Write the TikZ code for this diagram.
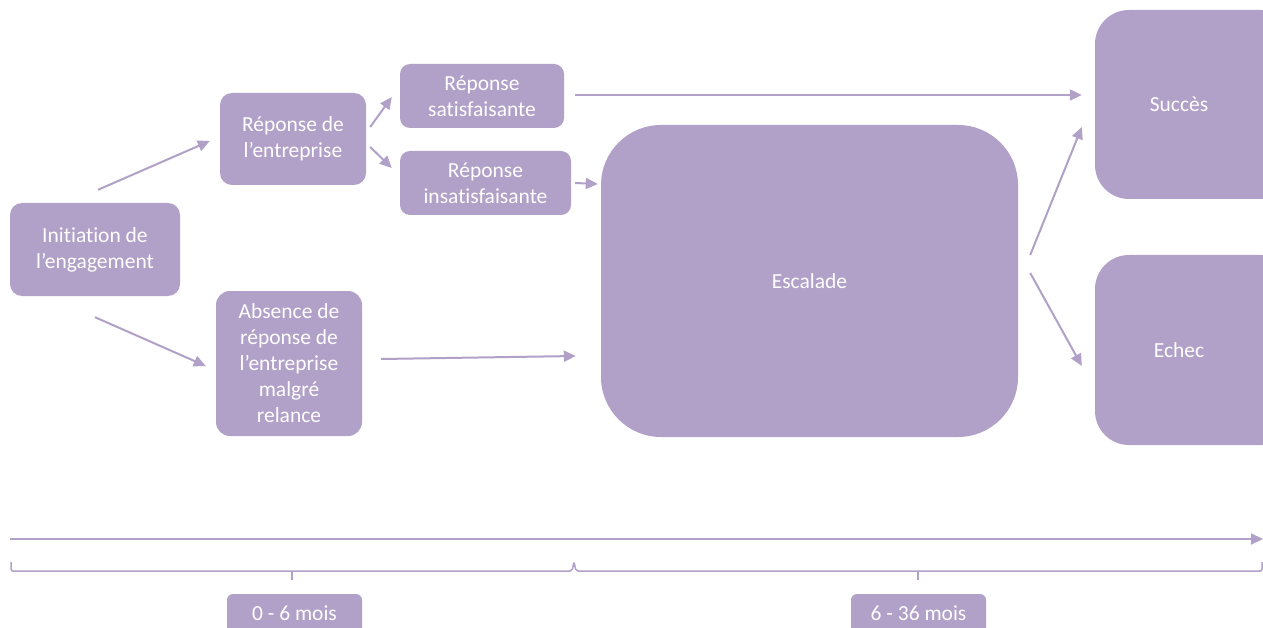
\documentclass[tikz,border=0pt]{standalone}
\usepackage{fontspec}
\setmainfont{Carlito}[Ligatures=NoCommon]
\usetikzlibrary{arrows.meta}
\definecolor{lav}{HTML}{B1A0C7}
\tikzset{
  box/.style={fill=lav, draw=none, text=white, align=center, font=\fontsize{21.5}{26}\selectfont, inner sep=0pt},
  arr/.style={draw=lav, line width=2pt, -{Triangle[length=12pt,width=11pt]}},
  ln/.style={draw=lav, line width=1.5pt},
}
\begin{document}
\begin{tikzpicture}[x=1pt,y=-1pt]
\clip (0,0) rectangle (1263,628);
\useasboundingbox (0,0) rectangle (1263,628);
\fill[white] (0,0) rectangle (1263,628);
% nodes
\node[box, rounded corners=12pt, minimum width=170pt, minimum height=93pt] (init) at (95,249.5) {Initiation de\\l’engagement};
\node[box, rounded corners=12pt, minimum width=146pt, minimum height=92pt] (rep) at (293,139) {Réponse de\\l’entreprise};
\node[box, rounded corners=10pt, minimum width=164pt, minimum height=64pt] (sat) at (482,96) {Réponse\\satisfaisante};
\node[box, rounded corners=10pt, minimum width=171pt, minimum height=64pt] (insat) at (485.5,183) {Réponse\\insatisfaisante};
\node[box, rounded corners=14pt, minimum width=146pt, minimum height=145pt] (abs) at (289,363.5) {Absence de\\réponse de\\l’entreprise\\malgré\\relance};
\node[box, rounded corners=60pt, minimum width=417pt, minimum height=312pt] (esc) at (809.5,281) {Escalade};
\node[box, rounded corners=34pt, minimum width=200pt, minimum height=189pt] (suc) at (1195,104.5) {\hspace*{-32pt}Succès};
\node[box, rounded corners=34pt, minimum width=200pt, minimum height=190pt] (ech) at (1195,350) {\hspace*{-32pt}Echec};
\node[box, rounded corners=6pt, minimum width=135pt, minimum height=40pt] (t1) at (294.5,614) {\raisebox{2pt}{0 - 6 mois}};
\node[box, rounded corners=6pt, minimum width=135pt, minimum height=40pt] (t2) at (918.5,614) {\raisebox{2pt}{6 - 36 mois}};
% arrows
\draw[arr] ([xshift=3pt,yshift=13pt]init.north) -- ([xshift=-10pt,yshift=-2pt]rep.west);
\draw[arr] ([yshift=-21pt]init.south) -- ([xshift=-10pt,yshift=-2.5pt]abs.west);
\draw[arr] ([xshift=4pt,yshift=12pt]rep.east) -- ([xshift=-8pt,yshift=-1pt]sat.west);
\draw[arr] ([xshift=4pt,yshift=-8pt]rep.east) -- ([xshift=-8pt,yshift=15pt]insat.west);
\draw[arr] ([xshift=11pt,yshift=1pt]sat.east) -- ([xshift=-13pt,yshift=9.5pt]suc.west);
\draw[arr] ([xshift=4pt]insat.east) -- ([xshift=-3pt,yshift=97pt]esc.west);
\draw[arr] ([xshift=19pt,yshift=4.5pt]abs.east) -- ([xshift=-25pt,yshift=-75pt]esc.west);
\draw[arr] ([xshift=12pt,yshift=26pt]esc.east) -- ([xshift=-13pt,yshift=-22.5pt]suc.west);
\draw[arr] ([xshift=12pt,yshift=8pt]esc.east) -- ([xshift=-13pt,yshift=-16pt]ech.west);
% timeline
\coordinate (tl0) at (10,539);
\coordinate (tl1) at (1263,539);
\draw[arr] (tl0) -- (tl1);
% brackets
\coordinate (b0) at (11,562);
\coordinate (bm) at (574,562);
\coordinate (b1) at (1262,562);
\draw[ln, rounded corners=2pt] (b0) -- (11,571) -- (572,571) -- (bm) -- (576,571) -- (1262,571) -- (b1);
\draw[ln] (292,571) -- (292,580);
\draw[ln] (918,571) -- (918,580);
\end{tikzpicture}
\end{document}
